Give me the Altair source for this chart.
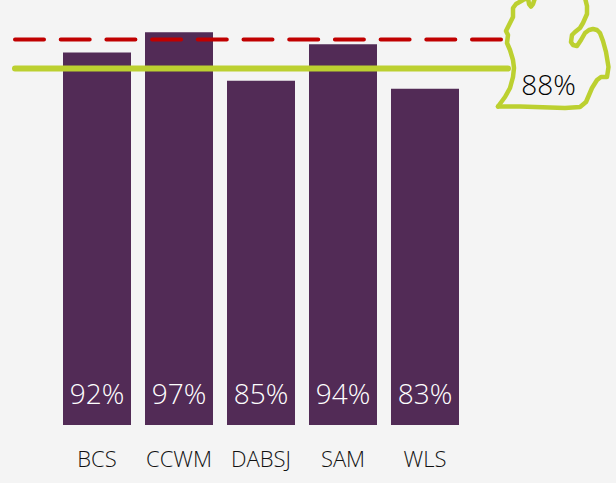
import altair as alt
import pandas as pd

categories = ["BCS", "CCWM", "DABSJ", "SAM", "WLS"]
values = [92, 97, 85, 94, 83]
value_labels = ["92%", "97%", "85%", "94%", "83%"]
target_red = [95.2]
state_green = [88.0]
state_label = ["88%"]
# Outline of the state, walked from the south-west corner
west_x = [498, 505, 510, 513, 514, 513, 510, 507, 508, 506, 510, 513, 513, 516, 523, 528, 529, 531, 533, 535]
west_y = [106.5, 97, 88, 77, 68, 60, 50, 43, 35, 31, 23, 17, 8, 4, 0, -2, 4, 6.5, 4, -2]
east_x = [498, 520, 550, 565, 580, 586, 589, 592, 597, 601, 607, 608.5, 606, 603, 600, 597, 593, 589, 585, 581, 577, 573, 571, 572, 575, 580, 583, 587, 587, 585]
east_y = [106.5, 106.5, 107.5, 108, 107, 102, 95, 88, 80, 77, 77, 67, 52, 41, 33, 30, 29, 30, 33, 40, 46, 45, 42, 35, 32, 28, 23, 14, 6, -2]

bars_df = pd.DataFrame({"cat": categories, "v": values, "label": value_labels})
red_df = pd.DataFrame({"v": target_red})
green_df = pd.DataFrame({"v": state_green, "label": state_label})
east_df = pd.DataFrame({"x": east_x, "y": east_y, "o": range(len(east_x))})
west_df = pd.DataFrame({"x": west_x, "y": west_y, "o": range(len(west_x))})

FONT = "Open Sans"
yscale = alt.Scale(domain=[0, 104.94], range=[425, 0], nice=False, zero=False)
xscale = alt.Scale(domain=categories, range=[56, 466], paddingInner=0.1707, paddingOuter=0.0854)
x_enc = alt.X("cat:N", scale=xscale, sort=categories, title=None,
              axis=alt.Axis(domain=False, ticks=False, labelAngle=0, labelFont=FONT, labelFontSize=22,
                            labelFontWeight=300, labelColor="#111111", labelPadding=24, grid=False))
y_enc = alt.Y("v:Q", scale=yscale, axis=None)

bars = alt.Chart(bars_df).mark_bar(color="#522b56", size=68).encode(x=x_enc, y=y_enc)
texts = alt.Chart(bars_df).mark_text(font=FONT, fontSize=28, fontWeight=300, color="white", baseline="middle").encode(
    x=alt.X("cat:N", scale=xscale, sort=categories), y=alt.value(396), text="label:N")
red = alt.Chart(red_df).mark_rule(color="#c00000", strokeWidth=4, strokeCap="round", strokeDash=[29, 16.7]).encode(
    y=y_enc, x=alt.value(15), x2=alt.value(504))
green = alt.Chart(green_df).mark_rule(color="#bcd030", strokeWidth=6, strokeCap="round").encode(
    y=y_enc, x=alt.value(15), x2=alt.value(508))
base = alt.layer(bars, texts, red, green)

mx = alt.Scale(domain=[0, 616], range=[0, 616], nice=False, zero=False)
my = alt.Scale(domain=[0, 425], range=[0, 425], nice=False, zero=False)
def outline(df):
    return alt.Chart(df).mark_line(color="#bcd030", strokeWidth=4.5, strokeCap="round", strokeJoin="round", clip=False).encode(
        x=alt.X("x:Q", scale=mx, axis=None), y=alt.Y("y:Q", scale=my, axis=None), order="o:Q")
state = alt.layer(outline(east_df), outline(west_df))
label = alt.Chart(green_df).mark_text(font=FONT, fontSize=28, fontWeight=300, color="#000000", baseline="middle").encode(
    x=alt.value(548.5), y=alt.value(87), text="label:N")

chart = alt.layer(base, state, label).resolve_scale(x="independent", y="independent").properties(
    width=616, height=425,
    autosize=alt.AutoSizeParams(type="none"),
    padding={"left": 0, "top": 0, "right": 0, "bottom": 58},
    background="#f4f4f4",
).configure_view(stroke=None)

chart.save("out.html", embed_options={"renderer": "svg", "actions": False,
    "defaultStyle": "html,body{margin:0;background:#f4f4f4;overflow:hidden}"})
